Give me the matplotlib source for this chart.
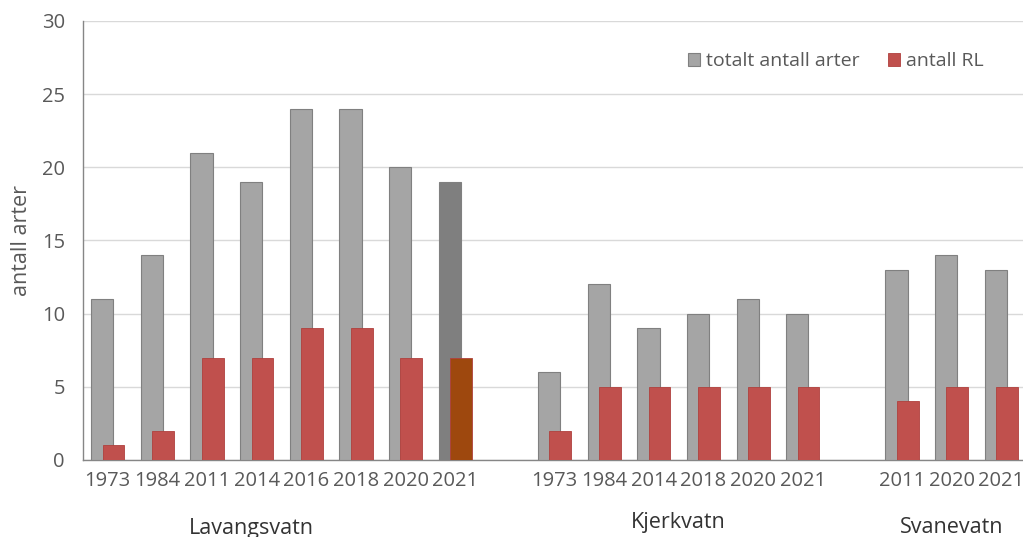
import matplotlib
matplotlib.use("Agg")
import matplotlib.pyplot as plt
import numpy as np

plt.rcParams['font.family'] = ['Open Sans', 'DejaVu Sans']

# data
groups = ["Lavangsvatn", "Kjerkvatn", "Svanevatn"]
years_lav = ["1973", "1984", "2011", "2014", "2016", "2018", "2020", "2021"]
years_kje = ["1973", "1984", "2014", "2018", "2020", "2021"]
years_sva = ["2011", "2020", "2021"]
total_lav = [11, 14, 21, 19, 24, 24, 20, 19]
total_kje = [6, 12, 9, 10, 11, 10]
total_sva = [13, 14, 13]
rl_lav = [1, 2, 7, 7, 9, 9, 7, 7]
rl_kje = [2, 5, 5, 5, 5, 5]
rl_sva = [4, 5, 5]

years = [years_lav, years_kje, years_sva]
totals = [total_lav, total_kje, total_sva]
rls = [rl_lav, rl_kje, rl_sva]

# slot positions, one empty slot between lakes
pos, labels, tot, rl = [], [], [], []
start = 0
group_pos = []
for yrs, t, r in zip(years, totals, rls):
    p = list(range(start, start + len(yrs)))
    pos += p
    labels += yrs
    tot += t
    rl += r
    group_pos.append(np.mean(p))
    start += len(yrs) + 1
pos = np.array(pos, dtype=float)

grey = ['#a5a5a5'] * len(pos)
red = ['#c0504d'] * len(pos)
grey[7] = '#7f7f7f'   # Lavangsvatn 2021 highlighted
red[7] = '#9e480e'

txt = '#595959'
fig = plt.figure(figsize=(10.23, 5.37), dpi=100)
ax = fig.add_axes([0.0811, 0.1434, 0.922, 0.8175])

ax.bar(pos - 0.11, tot, width=0.45, color=grey, edgecolor='#808080', linewidth=0.8,
       label='totalt antall arter', zorder=3)
ax.bar(pos + 0.115, rl, width=0.44, color=red, edgecolor='#b0403d', linewidth=0.6,
       label='antall RL', zorder=4)

ax.set_xlim(-0.5, 18.5)
ax.set_ylim(0, 30)
ax.set_yticks(range(0, 31, 5))
ax.yaxis.grid(True, color='#d9d9d9', linewidth=1, zorder=0)
ax.set_axisbelow(True)
for s in ['right', 'top']:
    ax.spines[s].set_visible(False)
for s in ['left', 'bottom']:
    ax.spines[s].set_color('#868686')
    ax.spines[s].set_linewidth(1)

ax.set_xticks(pos, labels)
ax.tick_params(axis='x', length=0, pad=8, labelsize=14.5, labelcolor=txt)
ax.tick_params(axis='y', length=0, pad=13, labelsize=14.5, labelcolor=txt)
ax.set_ylabel('antall arter', fontsize=15.5, color=txt)
ax.yaxis.set_label_coords(-0.054, 0.50)

grp_x = [2.9, group_pos[1], group_pos[2]]
grp_y = [-0.155, -0.142, -0.153]
for g, gx, gy in zip(groups, grp_x, grp_y):
    ax.text(gx, gy, g, transform=ax.get_xaxis_transform(), ha='center', va='center',
            fontsize=15.5, color='#333333')

fig.legend(loc='center', bbox_to_anchor=(0.817, 0.886), ncol=2, frameon=False,
           fontsize=14, labelcolor=txt, handlelength=0.6, handleheight=0.6,
           handletextpad=0.3, columnspacing=1.5)

fig.savefig('out.png', dpi=100)
